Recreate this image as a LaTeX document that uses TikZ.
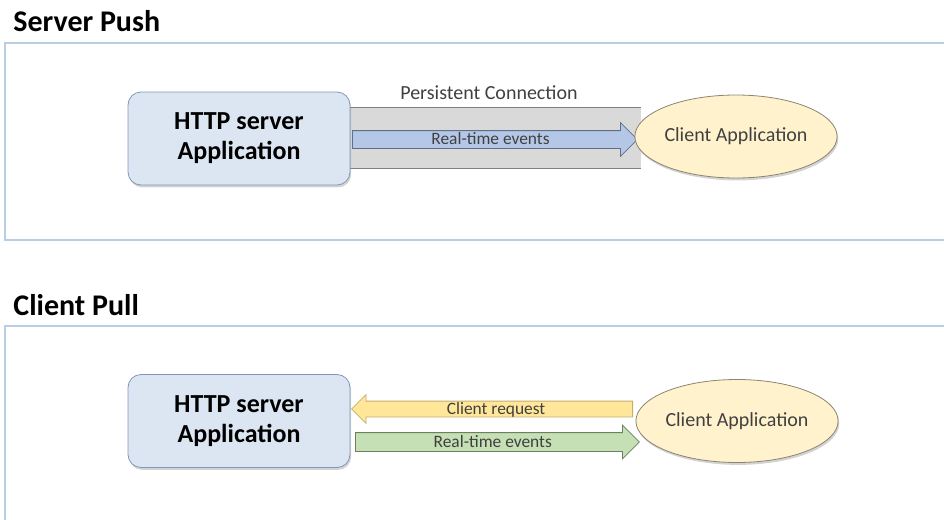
\documentclass[tikz,border=0pt]{standalone}
\usepackage{fontspec}
\setmainfont{Carlito}
\usetikzlibrary{shapes.geometric, shapes.arrows, shadows}
\definecolor{panelline}{HTML}{B9CDE5}
\definecolor{serverfill}{HTML}{DCE6F2}
\definecolor{serverline}{HTML}{7F98BA}
\definecolor{clientfill}{HTML}{FFF2CC}
\definecolor{clientline}{HTML}{8A8570}
\definecolor{bandfill}{HTML}{D9D9D9}
\definecolor{bandline}{HTML}{808080}
\definecolor{pushfill}{HTML}{B4C7E7}
\definecolor{pushline}{HTML}{5F6F85}
\definecolor{reqfill}{HTML}{FFE699}
\definecolor{reqline}{HTML}{C4AE70}
\definecolor{eventfill}{HTML}{C5E0B4}
\definecolor{eventline}{HTML}{6E8060}
\definecolor{textgrey}{HTML}{404040}

\begin{document}
\begin{tikzpicture}[x=0.5pt, y=-0.5pt,
    title/.style={anchor=base west, inner sep=0pt, font=\fontsize{15}{18}\selectfont\bfseries},
    panel/.style={draw=panelline, line width=1pt},
    server/.style={draw=serverline, fill=serverfill, rounded corners=6.5pt, minimum width=111pt, minimum height=46.5pt,
      align=center, font=\fontsize{13}{15}\selectfont\bfseries,
      drop shadow={shadow xshift=0.6pt, shadow yshift=-1.2pt, opacity=0.35}},
    client/.style={ellipse, draw=clientline, fill=clientfill, minimum width=96pt, minimum height=41.5pt, inner sep=0pt,
      text=textgrey, font=\fontsize{10}{12}\selectfont,
      drop shadow={shadow xshift=0.6pt, shadow yshift=-1.2pt, opacity=0.35}},
    flow/.style={single arrow, anchor=tail, minimum height=#1, inner xsep=0pt, inner ysep=0pt,
      single arrow tip angle=90, text=textgrey, font=\fontsize{8.7}{9}\selectfont},
    band/.style={fill=bandfill, inner sep=0pt, minimum width=145.5pt, minimum height=30pt},
    note/.style={inner sep=0pt, text=textgrey, font=\fontsize{10}{12}\selectfont}
  ]
  \useasboundingbox (0,0) rectangle (944,520);
  \clip (0,0) rectangle (944,520);

  % server push
  \node[title] (pushtitle) at (13,31) {Server Push};
  \draw[panel] (960,43) -| (5,240) -- (960,240);
  \node[band] (conn) at (495.5,138) {};
  \draw[bandline] (conn.north west) -- (conn.north east);
  \draw[bandline] (conn.south west) -- (conn.south east);
  \node[note] (connlabel) at (489,93) {Persistent Connection};
  \node[server] (server1) at (239,138.5) {HTTP server\\Application};
  \node[flow=142.5pt, fill=pushfill, draw=pushline, text height=6.75pt, text depth=1.75pt,
    single arrow head extend=4pt] (push) at (352,139.5) {Real-time events};
  \node[client] (client1) at (736,136.5) {Client Application};

  % client pull
  \node[title] (pulltitle) at (13,315) {Client Pull};
  \draw[panel] (960,326) -| (5,540);
  \node[server] (server2) at (239,421) {HTTP server\\Application};
  \node[flow=140.5pt, fill=reqfill, draw=reqline, text height=6.25pt, text depth=1.25pt,
    single arrow head extend=3.25pt, shape border rotate=180] (request) at (633,409) {Client request};
  \node[flow=142pt, fill=eventfill, draw=eventline, text height=7pt, text depth=2pt,
    single arrow head extend=3.75pt] (events) at (355,442) {Real-time events};
  \node[client] (client2) at (737,421) {Client Application};
\end{tikzpicture}
\end{document}
